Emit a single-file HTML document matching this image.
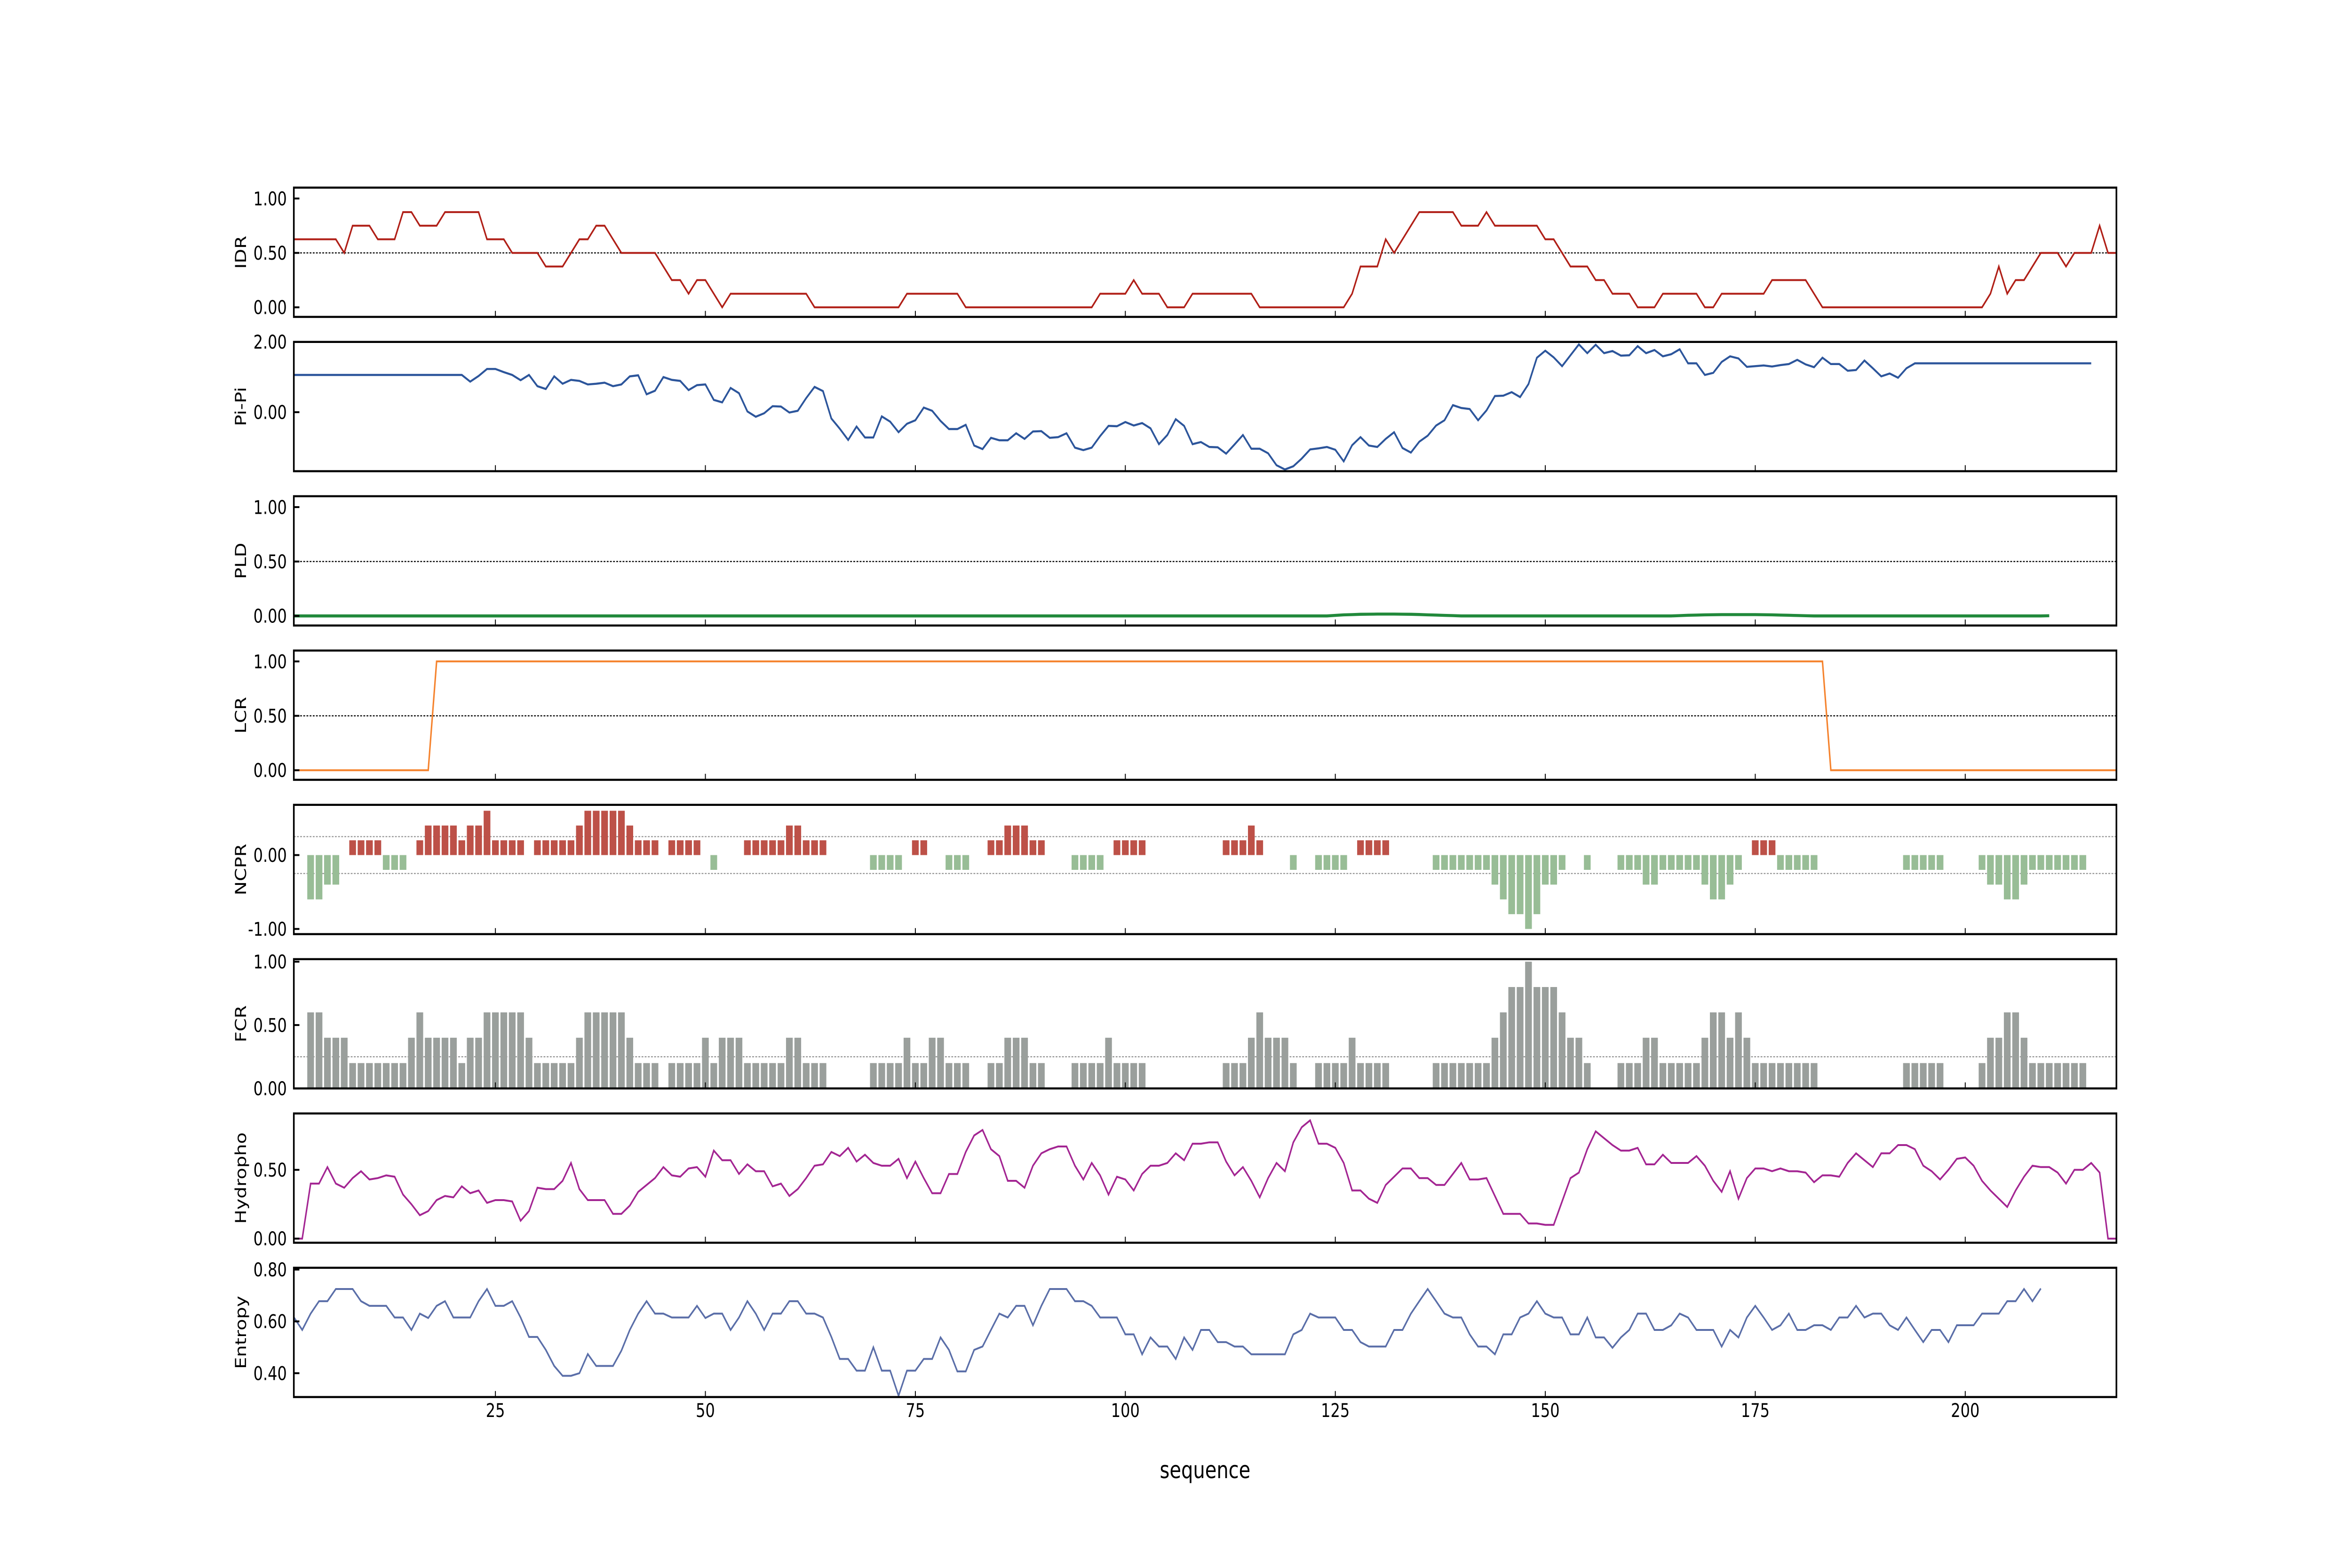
<!DOCTYPE html>
<html>
<head>
<meta charset="utf-8">
<style>
  html,body{margin:0;padding:0;background:#fff;overflow:hidden;width:100%;height:100%;}
  svg{display:block;width:100vw;height:100vh;}
  text{font-family:"DejaVu Sans","Liberation Sans",sans-serif;fill:#000;}
</style>
</head>
<body>
<svg id="chart" xmlns="http://www.w3.org/2000/svg" viewBox="0 0 1562.5 833.25" preserveAspectRatio="none">
  <rect x="0" y="0" width="1562.5" height="833.25" fill="#ffffff"/>
  <g id="panels"></g>
  <text x="800.6" y="785.5" font-size="12.5" text-anchor="middle">sequence</text>
</svg>
<script>
const xTicks = [25, 50, 75, 100, 125, 150, 175, 200];
const xTickLabels = ["25", "50", "75", "100", "125", "150", "175", "200"];

const idrValues = [.625,.625,.625,.625,.625,.625,.5,.75,.75,.75,.625,.625,.625,.875,.875,.75,.75,.75,.875,.875,.875,.875,.875,.625,.625,.625,.5,.5,.5,.5,.375,.375,.375,.5,.625,.625,.75,.75,.625,.5,.5,.5,.5,.5,.375,.25,.25,.125,.25,.25,.125,0,.125,.125,.125,.125,.125,.125,.125,.125,.125,.125,0,0,0,0,0,0,0,0,0,0,0,.125,.125,.125,.125,.125,.125,.125,0,0,0,0,0,0,0,0,0,0,0,0,0,0,0,0,.125,.125,.125,.125,.25,.125,.125,.125,0,0,0,.125,.125,.125,.125,.125,.125,.125,.125,0,0,0,0,0,0,0,0,0,0,0,.125,.375,.375,.375,.625,.5,.625,.75,.875,.875,.875,.875,.875,.75,.75,.75,.875,.75,.75,.75,.75,.75,.75,.625,.625,.5,.375,.375,.375,.25,.25,.125,.125,.125,0,0,0,.125,.125,.125,.125,.125,0,0,.125,.125,.125,.125,.125,.125,.25,.25,.25,.25,.25,.125,0,0,0,0,0,0,0,0,0,0,0,0,0,0,0,0,0,0,0,0,.125,.375,.125,.25,.25,.375,.5,.5,.5,.375,.5,.5,.5,.75,.5,.5];

const pipiValues = [1.06,1.06,1.06,1.06,1.06,1.06,1.06,1.06,1.06,1.06,1.06,1.06,1.06,1.06,1.06,1.06,1.06,1.06,1.06,1.06,1.06,.87,1.03,1.23,1.23,1.14,1.06,.91,1.06,.74,.66,1.02,.81,.92,.89,.79,.81,.84,.74,.79,1.02,1.05,.51,.61,1.0,.92,.89,.63,.77,.79,.35,.28,.69,.54,.02,-.13,-.03,.17,.16,-.01,.04,.40,.72,.60,-.18,-.47,-.79,-.41,-.72,-.72,-.12,-.27,-.57,-.33,-.23,.13,.04,-.25,-.48,-.48,-.36,-.95,-1.05,-.73,-.80,-.80,-.60,-.76,-.55,-.54,-.73,-.71,-.60,-1.01,-1.08,-1.01,-.68,-.39,-.40,-.28,-.38,-.31,-.46,-.91,-.65,-.20,-.39,-.91,-.85,-.99,-1.0,-1.18,-.92,-.65,-1.04,-1.04,-1.17,-1.51,-1.63,-1.54,-1.32,-1.06,-1.03,-.99,-1.07,-1.40,-.94,-.71,-.95,-.99,-.76,-.57,-1.02,-1.15,-.84,-.67,-.38,-.23,.20,.12,.09,-.23,.05,.46,.47,.57,.43,.80,1.55,1.75,1.56,1.31,1.62,1.93,1.68,1.92,1.68,1.74,1.61,1.62,1.88,1.68,1.77,1.59,1.65,1.79,1.39,1.39,1.06,1.12,1.43,1.59,1.53,1.29,1.31,1.33,1.30,1.34,1.37,1.49,1.36,1.28,1.55,1.37,1.37,1.18,1.20,1.47,1.25,1.02,1.10,.98,1.25,1.39,1.39,1.39,1.39,1.39,1.39,1.39,1.39,1.39,1.39,1.39,1.39,1.39,1.39,1.39,1.39,1.39,1.39,1.39,1.39,1.39,1.39];

const pldValues = [0,0,0,0,0,0,0,0,0,0,0,0,0,0,0,0,0,0,0,0,0,0,0,0,0,0,0,0,0,0,0,0,0,0,0,0,0,0,0,0,0,0,0,0,0,0,0,0,0,0,0,0,0,0,0,0,0,0,0,0,0,0,0,0,0,0,0,0,0,0,0,0,0,0,0,0,0,0,0,0,0,0,0,0,0,0,0,0,0,0,0,0,0,0,0,0,0,0,0,0,0,0,0,0,0,0,0,0,0,0,0,0,0,0,0,0,0,0,0,0,0,0,0,0,.005,.01,.012,.015,.016,.017,.017,.017,.016,.015,.013,.01,.008,.005,.003,0,0,0,0,0,0,0,0,0,0,0,0,0,0,0,0,0,0,0,0,0,0,0,0,0,0,.003,.006,.008,.01,.011,.012,.012,.012,.012,.012,.011,.01,.008,.006,.004,.002,0,0,0,0,0,0,0,0,0,0,0,0,0,0,0,0,0,0,0,0,0,0,0,0,0,0,0,0,.002];

const lcrValues = [0,0,0,0,0,0,0,0,0,0,0,0,0,0,0,0,0,1,1,1,1,1,1,1,1,1,1,1,1,1,1,1,1,1,1,1,1,1,1,1,1,1,1,1,1,1,1,1,1,1,1,1,1,1,1,1,1,1,1,1,1,1,1,1,1,1,1,1,1,1,1,1,1,1,1,1,1,1,1,1,1,1,1,1,1,1,1,1,1,1,1,1,1,1,1,1,1,1,1,1,1,1,1,1,1,1,1,1,1,1,1,1,1,1,1,1,1,1,1,1,1,1,1,1,1,1,1,1,1,1,1,1,1,1,1,1,1,1,1,1,1,1,1,1,1,1,1,1,1,1,1,1,1,1,1,1,1,1,1,1,1,1,1,1,1,1,1,1,1,1,1,1,1,1,1,1,1,1,1,1,1,1,1,0,0,0,0,0,0,0,0,0,0,0,0,0,0,0,0,0,0,0,0,0,0,0,0,0,0,0,0,0,0,0,0,0,0,0];

const ncprValues = [0,0,-.6,-.6,-.4,-.4,0,.2,.2,.2,.2,-.2,-.2,-.2,0,.2,.4,.4,.4,.4,.2,.4,.4,.6,.2,.2,.2,.2,0,.2,.2,.2,.2,.2,.4,.6,.6,.6,.6,.6,.4,.2,.2,.2,0,.2,.2,.2,.2,0,-.2,0,0,0,.2,.2,.2,.2,.2,.4,.4,.2,.2,.2,0,0,0,0,0,-.2,-.2,-.2,-.2,0,.2,.2,0,0,-.2,-.2,-.2,0,0,.2,.2,.4,.4,.4,.2,.2,0,0,0,-.2,-.2,-.2,-.2,0,.2,.2,.2,.2,0,0,0,0,0,0,0,0,0,.2,.2,.2,.4,.2,0,0,0,-.2,0,0,-.2,-.2,-.2,-.2,0,.2,.2,.2,.2,0,0,0,0,0,-.2,-.2,-.2,-.2,-.2,-.2,-.2,-.4,-.6,-.8,-.8,-1,-.8,-.4,-.4,-.2,0,0,-.2,0,0,0,-.2,-.2,-.2,-.4,-.4,-.2,-.2,-.2,-.2,-.2,-.4,-.6,-.6,-.4,-.2,0,.2,.2,.2,-.2,-.2,-.2,-.2,-.2,0,0,0,0,0,0,0,0,0,0,-.2,-.2,-.2,-.2,-.2,0,0,0,0,-.2,-.4,-.4,-.6,-.6,-.4,-.2,-.2,-.2,-.2,-.2,-.2,-.2,0,0,0,0];

const fcrValues = [0,0,.6,.6,.4,.4,.4,.2,.2,.2,.2,.2,.2,.2,.4,.6,.4,.4,.4,.4,.2,.4,.4,.6,.6,.6,.6,.6,.4,.2,.2,.2,.2,.2,.4,.6,.6,.6,.6,.6,.4,.2,.2,.2,0,.2,.2,.2,.2,.4,.2,.4,.4,.4,.2,.2,.2,.2,.2,.4,.4,.2,.2,.2,0,0,0,0,0,.2,.2,.2,.2,.4,.2,.2,.4,.4,.2,.2,.2,0,0,.2,.2,.4,.4,.4,.2,.2,0,0,0,.2,.2,.2,.2,.4,.2,.2,.2,.2,0,0,0,0,0,0,0,0,0,.2,.2,.2,.4,.6,.4,.4,.4,.2,0,0,.2,.2,.2,.2,.4,.2,.2,.2,.2,0,0,0,0,0,.2,.2,.2,.2,.2,.2,.2,.4,.6,.8,.8,1,.8,.8,.8,.6,.4,.4,.2,0,0,0,.2,.2,.2,.4,.4,.2,.2,.2,.2,.2,.4,.6,.6,.4,.6,.4,.2,.2,.2,.2,.2,.2,.2,.2,0,0,0,0,0,0,0,0,0,0,.2,.2,.2,.2,.2,0,0,0,0,.2,.4,.4,.6,.6,.4,.2,.2,.2,.2,.2,.2,.2,0,0,0,0];

const hydroValues = [0,0,.40,.40,.52,.40,.37,.44,.49,.43,.44,.46,.45,.32,.25,.17,.20,.28,.31,.30,.38,.33,.35,.26,.28,.28,.27,.13,.20,.37,.36,.36,.42,.55,.36,.28,.28,.28,.18,.18,.24,.34,.39,.44,.52,.46,.45,.51,.52,.45,.64,.57,.57,.47,.54,.49,.49,.38,.40,.31,.36,.44,.53,.54,.63,.60,.66,.56,.61,.55,.53,.53,.58,.44,.56,.44,.33,.33,.47,.47,.63,.75,.79,.65,.60,.42,.42,.37,.53,.62,.65,.67,.67,.53,.43,.55,.46,.32,.45,.43,.35,.47,.53,.53,.55,.62,.57,.69,.69,.70,.70,.56,.46,.52,.42,.30,.44,.55,.49,.70,.81,.86,.69,.69,.66,.55,.35,.35,.29,.26,.39,.45,.51,.51,.44,.44,.39,.39,.47,.55,.43,.43,.44,.31,.18,.18,.18,.11,.11,.10,.10,.27,.44,.48,.65,.78,.73,.68,.64,.64,.66,.54,.54,.61,.55,.55,.55,.60,.53,.42,.34,.49,.29,.44,.51,.51,.49,.51,.49,.49,.48,.41,.46,.46,.45,.55,.62,.57,.52,.62,.62,.68,.68,.65,.53,.49,.43,.50,.58,.59,.53,.42,.35,.29,.23,.35,.45,.53,.52,.52,.48,.40,.50,.50,.55,.48,0,0];

const entropyValues = [.616,.567,.63,.678,.678,.725,.725,.725,.678,.66,.66,.66,.615,.615,.567,.63,.613,.66,.678,.615,.615,.615,.678,.725,.66,.66,.678,.615,.54,.54,.49,.428,.39,.39,.40,.474,.428,.428,.428,.487,.567,.63,.678,.63,.63,.615,.615,.615,.66,.613,.63,.63,.567,.615,.678,.63,.567,.63,.63,.678,.678,.63,.63,.615,.54,.455,.455,.41,.41,.50,.41,.41,.313,.41,.41,.455,.455,.538,.49,.407,.407,.49,.503,.567,.63,.615,.66,.66,.585,.66,.725,.725,.725,.678,.678,.66,.615,.615,.615,.55,.55,.473,.538,.503,.503,.455,.538,.49,.567,.567,.52,.52,.503,.503,.473,.473,.473,.473,.473,.55,.567,.63,.615,.615,.615,.567,.567,.52,.503,.503,.503,.567,.567,.63,.678,.725,.678,.63,.615,.615,.55,.503,.503,.473,.55,.55,.615,.63,.678,.63,.615,.615,.55,.55,.615,.538,.538,.498,.538,.567,.63,.63,.567,.567,.585,.63,.615,.567,.567,.567,.503,.567,.538,.615,.66,.615,.567,.585,.63,.567,.567,.585,.585,.567,.615,.615,.66,.615,.63,.63,.585,.567,.615,.567,.52,.567,.567,.52,.585,.585,.585,.63,.63,.63,.678,.678,.725,.678,.727];

const NS = "http://www.w3.org/2000/svg";
const X0 = 195.2, X1 = 1406.0, XMIN = 1, XMAX = 218;
const PTOP = 99.7, PH = 68.7, PSTEP = 82.0;
function xScale(v){ return X0 + (v - XMIN) * (X1 - X0) / (XMAX - XMIN); }
function mk(tag, attrs, parent){
  const el = document.createElementNS(NS, tag);
  for (const k in attrs) el.setAttribute(k, attrs[k]);
  parent.appendChild(el);
  return el;
}
const root = document.getElementById("panels");

const panels = [
  {key:"idr", label:"IDR", ylim:[-0.088,1.10], ticks:[0,0.5,1], tl:["0.00","0.50","1.00"], kind:"line", data:idrValues, color:"#b01f17", width:1.0, ref:[0.5], refColor:"#000"},
  {key:"pipi", label:"Pi-Pi", ylim:[-1.68,2.0], ticks:[0,2], tl:["0.00","2.00"], kind:"line", data:pipiValues, color:"#2c559b", width:1.1, ref:[], refColor:"#000"},
  {key:"pld", label:"PLD", ylim:[-0.088,1.10], ticks:[0,0.5,1], tl:["0.00","0.50","1.00"], kind:"line", data:pldValues, color:"#21893b", width:1.6, ref:[0.5], refColor:"#000"},
  {key:"lcr", label:"LCR", ylim:[-0.088,1.10], ticks:[0,0.5,1], tl:["0.00","0.50","1.00"], kind:"line", data:lcrValues, color:"#f5832e", width:1.0, ref:[0.5], refColor:"#000"},
  {key:"ncpr", label:"NCPR", ylim:[-1.07,0.68], ticks:[-1,0], tl:["-1.00","0.00"], kind:"ncpr", data:ncprValues, ref:[0.25,-0.25], refColor:"#999"},
  {key:"fcr", label:"FCR", ylim:[0,1.02], ticks:[0,0.5,1], tl:["0.00","0.50","1.00"], kind:"fcr", data:fcrValues, ref:[0.25], refColor:"#999"},
  {key:"hydropho", label:"Hydropho", ylim:[-0.03,0.91], ticks:[0,0.5], tl:["0.00","0.50"], kind:"line", data:hydroValues, color:"#a32592", width:1.0, ref:[], refColor:"#000"},
  {key:"entropy", label:"Entropy", ylim:[0.308,0.807], ticks:[0.4,0.6,0.8], tl:["0.40","0.60","0.80"], kind:"line", data:entropyValues, color:"#5a6ea8", width:1.0, ref:[], refColor:"#000"}
];

panels.forEach((p, i) => {
  const top = PTOP + i * PSTEP, bot = top + PH;
  const yScale = v => bot - (v - p.ylim[0]) / (p.ylim[1] - p.ylim[0]) * PH;
  const g = mk("g", {}, root);
  
  

  const clipId = "clip-" + p.key;
  const cp = mk("clipPath", {id: clipId}, g);
  mk("rect", {x: X0, y: top, width: X1 - X0, height: PH}, cp);

  p.ref.forEach(r => {
    const ln = mk("line", {x1: X0, x2: X1, y1: yScale(r), y2: yScale(r), stroke: p.refColor, "stroke-width": 0.6, "stroke-dasharray": "1.2,0.9"}, g);
    
    
  });

  const dg = mk("g", {"clip-path": "url(#" + clipId + ")"}, g);
  
  

  if (p.kind === "line") {
    const pts = p.data.map((v, k) => xScale(k + 1).toFixed(2) + "," + yScale(v).toFixed(2)).join(" ");
    const pl = mk("polyline", {points: pts, fill: "none", stroke: p.color, "stroke-width": p.width, "stroke-linejoin": "miter"}, dg);
    
    
  } else {
    p.data.forEach((v, k) => {
      if (v === 0) return;
      const xl = xScale(k + 1 - 0.4), xr = xScale(k + 1 + 0.4);
      const y0 = yScale(0), y1 = yScale(v);
      let fill = "#9a9f9c";
      if (p.kind === "ncpr") fill = v > 0 ? "#bd5148" : "#98bd96";
      const b = mk("rect", {x: xl, y: Math.min(y0, y1), width: xr - xl, height: Math.abs(y1 - y0), fill: fill}, dg);
      
      
    });
  }

  const fr = mk("rect", {x: X0, y: top, width: X1 - X0, height: PH, fill: "none", stroke: "#000", "stroke-width": 1.1}, g);
  
  

  xTicks.forEach((t, j) => {
    const tk = mk("line", {x1: xScale(t), x2: xScale(t), y1: bot, y2: bot - 3.2, stroke: "#000", "stroke-width": 0.6}, g);
    
    
    if (i === panels.length - 1) {
      const tx = mk("text", {x: xScale(t), y: 753, "font-size": 10, "text-anchor": "middle"}, g);
      tx.textContent = xTickLabels[j];
      
      
    }
  });

  p.ticks.forEach((t, j) => {
    const y = yScale(t);
    const tk = mk("line", {x1: X0, x2: X0 + 3.7, y1: y, y2: y, stroke: "#000", "stroke-width": 1.0}, g);
    
    
    const tx = mk("text", {x: 190.6, y: y + 3.6, "font-size": 10, "text-anchor": "end"}, g);
    tx.textContent = p.tl[j];
    
    
  });

  const cy = top + PH / 2;
  const yl = mk("text", {x: 0, y: 0, "font-size": 10, "text-anchor": "middle", transform: "translate(163.5," + cy + ") rotate(-90)"}, g);
  yl.textContent = p.label;
  
  
});
</script>
</body>
</html>
